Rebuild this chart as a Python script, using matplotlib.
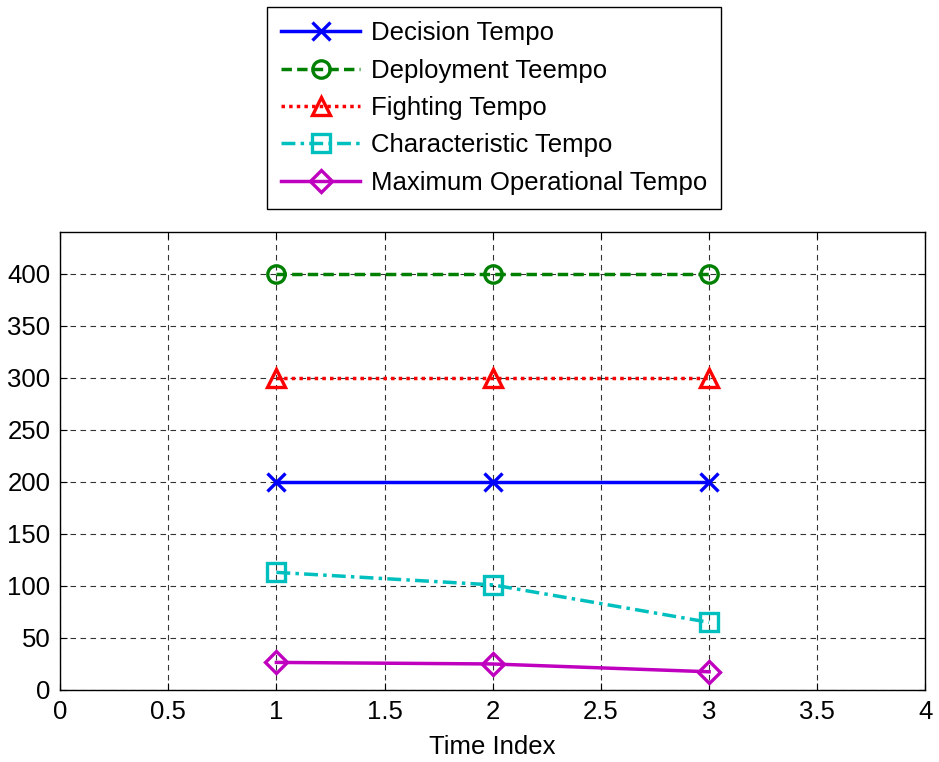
import numpy as np
import matplotlib.pyplot as plt

plt.rcParams['font.family'] = ['Liberation Sans', 'DejaVu Sans']

time_index = [1, 2, 3]
decision = [200, 200, 200]
deployment = [400, 400, 400]
fighting = [300, 300, 300]
characteristic = [113, 101, 65]
max_operational = [26.5, 25, 17.5]

labels = ["Decision Tempo", "Deployment Teempo", "Fighting Tempo",
          "Characteristic Tempo", "Maximum Operational Tempo"]

fs = 18.5
fig = plt.figure(figsize=(9.39, 7.62), dpi=100)
ax = fig.add_axes([0.0639, 0.0945, 0.9217, 0.601])

lw, ms, mew = 2.5, 12.5, 2.4
ax.plot(time_index, decision, color="b", ls="-", lw=lw, marker="x", ms=ms, mew=mew, label=labels[0])
ax.plot(time_index, deployment, color="g", ls=(0, (3, 1.5)), lw=lw, marker="o", ms=ms,
        mew=mew, mfc="none", label=labels[1])
ax.plot(time_index, fighting, color="r", ls=(0, (1, 1.2)), lw=lw, marker="^", ms=ms + 1,
        mew=mew, mfc="none", label=labels[2])
ax.plot(time_index, characteristic, color="c", ls=(0, (4, 1.5, 1, 1.5)), lw=lw, marker="s",
        ms=ms, mew=mew, mfc="none", label=labels[3])
ax.plot(time_index, max_operational, color="m", ls="-", lw=lw, marker="D", ms=ms - 1,
        mew=mew, mfc="none", label=labels[4])

ax.set_xlim(0, 4)
ax.set_ylim(0, 440)
ax.set_xticks([0, 0.5, 1, 1.5, 2, 2.5, 3, 3.5, 4])
ax.set_xticklabels(["0", "0.5", "1", "1.5", "2", "2.5", "3", "3.5", "4"])
ax.set_yticks(np.arange(0, 401, 50))
ax.tick_params(direction="in", top=True, right=True, labelsize=fs, length=5, pad=7)
ax.grid(True, color="k", ls=(0, (5, 4)), lw=0.8, alpha=0.8)
ax.set_xlabel("Time Index", fontsize=fs, labelpad=8)
for s in ax.spines.values():
    s.set_linewidth(1.0)

fig.legend(loc="upper center", bbox_to_anchor=(0.526, 0.994), fontsize=fs,
           handlelength=3.1, handletextpad=0.4, labelspacing=0.52, borderpad=0.55,
           borderaxespad=0.1, fancybox=False, edgecolor="k",
           framealpha=1).get_frame().set_linewidth(1.0)

fig.savefig("out.png", dpi=100)
